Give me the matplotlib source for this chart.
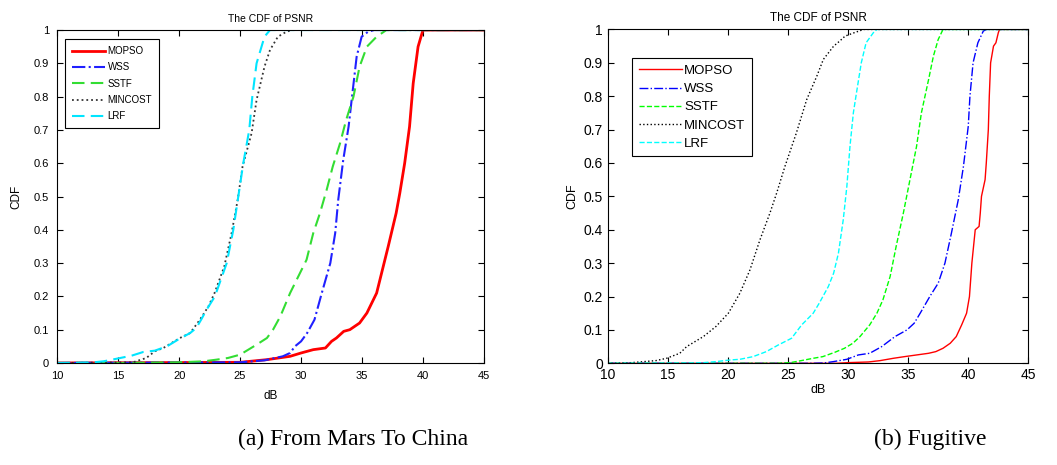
import matplotlib
matplotlib.use('Agg')
import matplotlib.pyplot as plt

plt.rcParams['font.family'] = ['Liberation Sans', 'DejaVu Sans']

# ---- data: (a) From Mars To China ----
mop_a_x = [10, 25, 27.2, 29.1, 30.0, 31.0, 32.0, 32.5, 32.9, 33.5, 34.0, 34.8, 35.4, 36.2, 37.15, 37.8, 38.1, 38.5, 38.9, 39.2, 39.6, 40.0, 45]
mop_a_y = [0, 0.002, 0.01, 0.02, 0.03, 0.04, 0.045, 0.065, 0.075, 0.095, 0.10, 0.12, 0.15, 0.21, 0.35, 0.45, 0.51, 0.60, 0.71, 0.84, 0.95, 1.0, 1.0]

wss_a_x = [10, 25, 27, 28.5, 29.1, 29.5, 30.0, 30.5, 31.1, 31.7, 32.4, 32.8, 33.05, 33.46, 33.9, 34.15, 34.56, 34.97, 35.5, 36, 45]
wss_a_y = [0, 0.002, 0.008, 0.02, 0.03, 0.05, 0.065, 0.09, 0.13, 0.21, 0.30, 0.39, 0.49, 0.61, 0.71, 0.79, 0.92, 0.98, 0.995, 1.0, 1.0]

sstf_a_x = [10, 15, 20, 22, 23.07, 24, 25, 26.35, 27.2, 27.7, 28.3, 29.1, 30.45, 31.0, 31.55, 32.1, 32.6, 33.2, 33.7, 34.3, 34.8, 35.4, 36.2, 37.0, 45]
sstf_a_y = [0, 0, 0.002, 0.005, 0.01, 0.015, 0.025, 0.055, 0.075, 0.1, 0.14, 0.21, 0.31, 0.39, 0.45, 0.52, 0.59, 0.66, 0.73, 0.80, 0.89, 0.95, 0.98, 1.0, 1.0]

min_a_x = [10, 16.2, 17.3, 18.0, 18.7, 20.06, 20.9, 21.7, 22.4, 22.9, 23.7, 24.3, 24.8, 25.2, 25.94, 26.35, 27.0, 27.45, 28.1, 28.8, 29.3, 45]
min_a_y = [0, 0.002, 0.015, 0.035, 0.045, 0.075, 0.09, 0.13, 0.17, 0.21, 0.29, 0.39, 0.49, 0.59, 0.69, 0.79, 0.89, 0.94, 0.98, 0.995, 1.0, 1.0]

lrf_a_x = [10, 13, 13.8, 14.9, 16.1, 17.05, 18.0, 19.0, 19.9, 20.9, 21.4, 21.8, 22.25, 22.93, 23.9, 24.44, 24.85, 25.26, 25.75, 26.0, 26.35, 27.0, 27.45, 45]
lrf_a_y = [0, 0.002, 0.005, 0.013, 0.022, 0.033, 0.037, 0.05, 0.07, 0.09, 0.105, 0.13, 0.16, 0.20, 0.30, 0.40, 0.50, 0.60, 0.70, 0.80, 0.90, 0.98, 1.0, 1.0]

# ---- data: (b) Fugitive ----
mop_b_x = [10, 29, 30, 31.7, 32.66, 33.77, 34.7, 35.7, 36.7, 37.3, 37.9, 38.5, 39.0, 39.45, 39.86, 40.1, 40.3, 40.58, 40.9, 41.0, 41.1, 41.4, 41.5, 41.67, 41.75, 41.86, 42.1, 42.3, 42.5, 42.6, 45]
mop_b_y = [0, 0, 0.002, 0.004, 0.008, 0.015, 0.02, 0.025, 0.03, 0.035, 0.045, 0.06, 0.08, 0.115, 0.15, 0.2, 0.3, 0.40, 0.41, 0.45, 0.5, 0.55, 0.6, 0.7, 0.8, 0.9, 0.95, 0.96, 0.99, 1.0, 1.0]

wss_b_x = [10, 27, 28, 28.77, 29.9, 30.85, 31.8, 32.8, 33.9, 34.9, 35.5, 36.0, 36.8, 37.5, 38.06, 38.6, 39.17, 39.6, 40.0, 40.14, 40.4, 40.8, 41.25, 41.5, 45]
wss_b_y = [0, 0, 0.001, 0.005, 0.012, 0.025, 0.03, 0.05, 0.08, 0.10, 0.12, 0.15, 0.2, 0.24, 0.30, 0.39, 0.49, 0.59, 0.71, 0.8, 0.9, 0.96, 0.995, 1.0, 1.0]

sstf_b_x = [10, 24, 25.2, 26.1, 27.1, 27.9, 28.9, 29.7, 30.4, 30.99, 31.8, 32.4, 32.9, 33.5, 34.0, 34.6, 35.15, 35.7, 36.1, 36.7, 37.1, 37.5, 37.9, 38.5, 45]
sstf_b_y = [0, 0, 0.002, 0.008, 0.015, 0.02, 0.033, 0.045, 0.06, 0.08, 0.115, 0.15, 0.19, 0.26, 0.35, 0.45, 0.55, 0.65, 0.75, 0.85, 0.92, 0.97, 1.0, 1.0, 1.0]

min_b_x = [10, 12, 13, 14, 14.9, 16, 16.57, 17.96, 19, 20.04, 21.0, 21.84, 22.67, 23.5, 24.06, 24.75, 25.7, 26.56, 27.4, 27.94, 28.8, 29.3, 29.75, 30.5, 31.3, 45]
min_b_y = [0, 0.002, 0.005, 0.008, 0.015, 0.03, 0.05, 0.08, 0.11, 0.15, 0.21, 0.28, 0.37, 0.45, 0.51, 0.59, 0.69, 0.79, 0.86, 0.91, 0.95, 0.965, 0.98, 0.99, 1.0, 1.0]

lrf_b_x = [10, 17, 18, 19, 20.2, 21, 22.1, 23.2, 24.2, 25.3, 26.14, 27.1, 27.6, 28.36, 28.8, 29.2, 29.6, 29.9, 30.16, 30.44, 30.7, 31.1, 31.5, 32.1, 32.4, 45]
lrf_b_y = [0, 0.001, 0.002, 0.005, 0.01, 0.012, 0.02, 0.035, 0.055, 0.075, 0.115, 0.15, 0.18, 0.23, 0.27, 0.33, 0.43, 0.53, 0.65, 0.75, 0.81, 0.90, 0.96, 0.99, 1.0, 1.0]

names = ['MOPSO', 'WSS', 'SSTF', 'MINCOST', 'LRF']
x_ticks = [10, 15, 20, 25, 30, 35, 40, 45]
y_ticks = [0, 0.1, 0.2, 0.3, 0.4, 0.5, 0.6, 0.7, 0.8, 0.9, 1]
y_tick_labels = ['0', '0.1', '0.2', '0.3', '0.4', '0.5', '0.6', '0.7', '0.8', '0.9', '1']

fig = plt.figure(figsize=(10.57, 4.65), dpi=100)
ax1 = fig.add_axes([0.0542, 0.2194, 0.4036, 0.716])
ax2 = fig.add_axes([0.5749, 0.2187, 0.398, 0.718])

# left panel (smooth, thicker lines)
ax1.plot(mop_a_x, mop_a_y, color='#ff0000', linestyle='-', linewidth=2.0, label=names[0])
ax1.plot(wss_a_x, wss_a_y, color='#2020ff', linestyle='-.', linewidth=1.5, label=names[1])
ax1.plot(sstf_a_x, sstf_a_y, color='#33dd33', linestyle=(0, (6, 3)), linewidth=1.5, label=names[2])
ax1.plot(min_a_x, min_a_y, color='#333333', linestyle=':', linewidth=1.3, label=names[3])
ax1.plot(lrf_a_x, lrf_a_y, color='#00e5ff', linestyle=(0, (6, 3)), linewidth=1.5, label=names[4])

# right panel (thin MATLAB lines)
ax2.plot(mop_b_x, mop_b_y, color='#ff0000', linestyle='-', linewidth=1.0, label=names[0])
ax2.plot(wss_b_x, wss_b_y, color='#0000ff', linestyle='-.', linewidth=1.0, label=names[1])
ax2.plot(sstf_b_x, sstf_b_y, color='#00ff00', linestyle='--', linewidth=1.0, label=names[2])
ax2.plot(min_b_x, min_b_y, color='#000000', linestyle=':', linewidth=1.0, label=names[3])
ax2.plot(lrf_b_x, lrf_b_y, color='#00ffff', linestyle='--', linewidth=1.0, label=names[4])

for ax, fs, tfs, pad in [(ax1, 8, 7.5, 6), (ax2, 10, 8.5, 3.5)]:
    ax.set_xlim(10, 45)
    ax.set_ylim(0, 1)
    ax.set_xticks(x_ticks)
    ax.set_yticks(y_ticks)
    ax.set_yticklabels(y_tick_labels)
    ax.tick_params(direction='in', top=True, right=True, labelsize=fs, length=4, pad=pad)
    ax.set_title('The CDF of PSNR', fontsize=tfs, pad=6)
    for s in ax.spines.values():
        s.set_linewidth(0.8)

ax1.set_xlabel('dB', fontsize=8.5, labelpad=6)
ax1.set_ylabel('CDF', fontsize=8.5, labelpad=8)
ax2.set_xlabel('dB', fontsize=9, labelpad=1)
ax2.set_ylabel('CDF', fontsize=9)

leg1 = ax1.legend(loc='upper left', bbox_to_anchor=(0.018, 0.972), fontsize=7,
                  frameon=True, fancybox=False, edgecolor='black', framealpha=1,
                  handlelength=3.4, borderpad=0.7, labelspacing=0.65, handletextpad=0.3,
                  borderaxespad=0)
leg1.get_frame().set_linewidth(0.8)
leg2 = ax2.legend(loc='upper left', bbox_to_anchor=(0.058, 0.914), fontsize=9.5,
                  frameon=True, fancybox=False, edgecolor='black', framealpha=1,
                  handlelength=3.3, borderpad=0.5, labelspacing=0.45, handletextpad=0.15,
                  borderaxespad=0)
leg2.get_frame().set_linewidth(0.8)

fig.text(353 / 1057, 0.054, '(a) From Mars To China', ha='center', va='center',
         fontsize=17, family='Liberation Serif')
fig.text(930 / 1057, 0.054, '(b) Fugitive', ha='center', va='center',
         fontsize=17, family='Liberation Serif')

plt.savefig('out.png', dpi=100)
